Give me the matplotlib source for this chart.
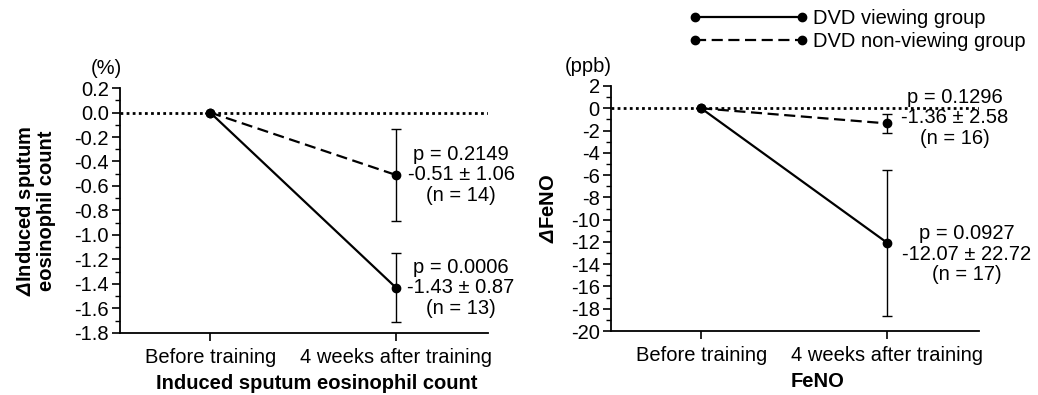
import numpy as np
import matplotlib.pyplot as plt
from matplotlib.lines import Line2D
from matplotlib.legend_handler import HandlerLine2D
from matplotlib.ticker import MultipleLocator

plt.rcParams['font.family'] = ['Liberation Sans', 'DejaVu Sans']
plt.rcParams['axes.unicode_minus'] = False
plt.rcParams['mathtext.fontset'] = 'custom'
plt.rcParams['mathtext.rm'] = 'Liberation Sans'
plt.rcParams['mathtext.bf'] = 'Liberation Sans:bold'
plt.rcParams['mathtext.it'] = 'Liberation Sans:italic'
plt.rcParams['mathtext.bfit'] = 'Liberation Sans:bold:italic'

# Data
timepoints = ["Before training", "4 weeks after training"]

eos_view = [0.0, -1.43]
eos_view_err = [0.0, 0.28]
eos_nonview = [0.0, -0.51]
eos_nonview_err = [0.0, 0.375]
eos_text_view = "p = 0.0006\n-1.43 ± 0.87\n(n = 13)"
eos_text_nonview = "p = 0.2149\n-0.51 ± 1.06\n(n = 14)"

feno_view = [0.0, -12.07]
feno_view_err = [0.0, 6.55]
feno_nonview = [0.0, -1.36]
feno_nonview_err = [0.0, 0.83]
feno_text_view = "p = 0.0927\n-12.07 ± 22.72\n(n = 17)"
feno_text_nonview = "p = 0.1296\n-1.36 ± 2.58\n(n = 16)"

FS = 14.5
LW = 1.6

fig = plt.figure(figsize=(10.38, 3.95), dpi=100)
ax1 = fig.add_axes([0.1156, 0.157, 0.3545, 0.6202])
ax2 = fig.add_axes([0.5886, 0.162, 0.3546, 0.6203])


def draw_panel(ax, view, view_err, nonview, nonview_err, ylim, major, minor):
    x = np.arange(len(timepoints))
    ax.axhline(0, color='black', linestyle=(0, (1, 1.2)), linewidth=2.0, zorder=1)
    ax.errorbar(x, nonview, yerr=nonview_err, color='black', linestyle=(0, (5, 2.5)),
                linewidth=LW, marker='o', markersize=6, capsize=3.5, elinewidth=1.0,
                capthick=1.0, zorder=3)
    ax.errorbar(x, view, yerr=view_err, color='black', linestyle='-',
                linewidth=LW, marker='o', markersize=6, capsize=3.5, elinewidth=1.0,
                capthick=1.0, zorder=3)
    ax.set_xlim(-0.485, 1.495)
    ax.set_ylim(*ylim)
    ax.set_xticks(x)
    ax.set_xticklabels(timepoints, fontsize=FS)
    ax.yaxis.set_major_locator(MultipleLocator(major))
    ax.yaxis.set_minor_locator(MultipleLocator(minor))
    ax.tick_params(axis='y', which='major', length=6, width=1.2, labelsize=FS, pad=2)
    ax.tick_params(axis='y', which='minor', length=3.5, width=1.0)
    ax.tick_params(axis='x', which='major', length=6, width=1.2, pad=5)
    for s in ['top', 'right']:
        ax.spines[s].set_visible(False)
    for s in ['left', 'bottom']:
        ax.spines[s].set_linewidth(1.3)


draw_panel(ax1, eos_view, eos_view_err, eos_nonview, eos_nonview_err,
           (-1.8, 0.2), 0.2, 0.1)
ax1.yaxis.set_major_formatter(plt.FuncFormatter(lambda v, p: f"{v:.1f}"))
ax1.text(1.35, eos_nonview[1], eos_text_nonview, ha='center', va='center',
         fontsize=FS, linespacing=1.1)
ax1.text(1.35, eos_view[1], eos_text_view, ha='center', va='center',
         fontsize=FS, linespacing=1.1)
ax1.set_ylabel("$\\mathbfit{\\Delta}$Induced sputum\neosinophil count",
               fontsize=FS, fontweight='bold', linespacing=0.95)
ax1.yaxis.set_label_coords(-0.175, 0.5)
ax1.set_xlabel("Induced sputum eosinophil count", fontsize=FS, fontweight='bold')
ax1.xaxis.set_label_coords(0.535, -0.168)
ax1.text(0.005, 1.08, "(%)", transform=ax1.transAxes, ha='right', va='center', fontsize=FS)

draw_panel(ax2, feno_view, feno_view_err, feno_nonview, feno_nonview_err,
           (-20, 2), 2, 1)
ax2.text(1.365, -0.87, feno_text_nonview, ha='center', va='center',
         fontsize=FS, linespacing=1.1)
ax2.text(1.43, -13.1, feno_text_view, ha='center', va='center',
         fontsize=FS, linespacing=1.1)
ax2.set_ylabel("$\\mathbfit{\\Delta}$FeNO", fontsize=FS, fontweight='bold')
ax2.yaxis.set_label_coords(-0.144, 0.5)
ax2.set_xlabel("FeNO", fontsize=FS, fontweight='bold')
ax2.xaxis.set_label_coords(0.56, -0.168)
ax2.text(0.003, 1.08, "(ppb)", transform=ax2.transAxes, ha='right', va='center', fontsize=FS)

# Legend
handles = [
    Line2D([], [], color='black', linestyle='-', linewidth=LW, marker='o', markersize=6),
    Line2D([], [], color='black', linestyle=(0, (5, 2.5)), linewidth=LW, marker='o', markersize=6),
]
fig.legend(handles, ["DVD viewing group", "DVD non-viewing group"],
           loc='upper left', bbox_to_anchor=(0.654, 1.018), frameon=False,
           fontsize=FS, numpoints=2, handlelength=5.3, handletextpad=0.55,
           labelspacing=0.2, borderpad=0.3,
           handler_map={Line2D: HandlerLine2D(marker_pad=0)})

fig.savefig("out.png", dpi=100)
